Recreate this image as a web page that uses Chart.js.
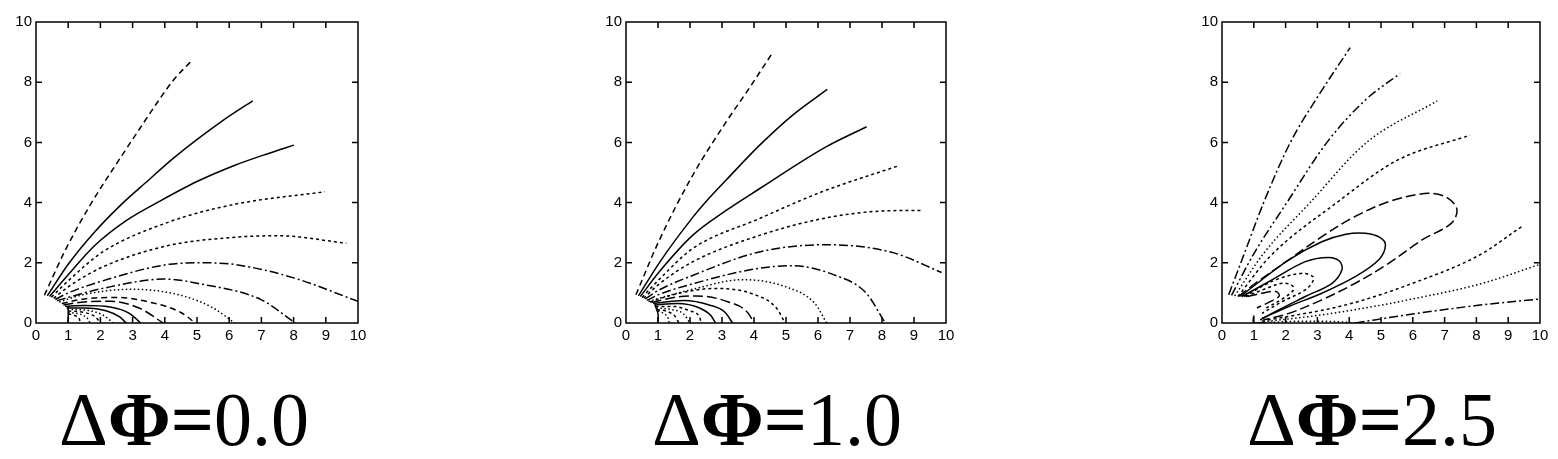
<!DOCTYPE html>
<html>
<head>
<meta charset="utf-8">
<script src="https://cdn.jsdelivr.net/npm/chart.js@4.4.0/dist/chart.umd.min.js"></script>
<style>
    body { margin: 0; background: #fff; width: 1558px; height: 459px; position: relative; overflow: hidden; }
    .panel { position: absolute; top: 0; height: 350px; }
    .title { position: absolute; top: 381px; width: 400px; text-align: center; font-family: 'Liberation Serif', 'Times New Roman', serif; font-size: 76px; line-height: 76px; color: #000; white-space: nowrap; }
    .title b { font-weight: bold; }
</style>
</head>
<body>
<div class="panel" style="left:0px;width:380px;"><canvas id="chart0"></canvas></div>
<div class="panel" style="left:590px;width:380px;"><canvas id="chart1"></canvas></div>
<div class="panel" style="left:1180px;width:378px;"><canvas id="chart2"></canvas></div>
<div class="title" style="left:-16px;">Δ<b>Φ=</b>0.0</div>
<div class="title" style="left:577px;">Δ<b>Φ=</b>1.0</div>
<div class="title" style="left:1172px;">Δ<b>Φ=</b>2.5</div>
<script>
const xTicks = [0, 1, 2, 3, 4, 5, 6, 7, 8, 9, 10];
const yTicks = [0, 2, 4, 6, 8, 10];

// ΔΦ = 0.0
const curves0 = [
    [[0.26,0.92],[0.9,2.4],[1.7,3.95],[2.61,5.47],[3.23,6.47],[3.75,7.3],[4.27,8.07],[4.83,8.71]],
    [[0.35,0.9],[1.0,1.95],[1.8,3.0],[2.71,4.0],[3.5,4.75],[4.26,5.47],[5.82,6.74],[6.73,7.38]],
    [[0.42,0.88],[1.0,1.6],[1.8,2.55],[2.8,3.4],[3.85,4.05],[5.0,4.7],[6.2,5.25],[7.27,5.65],[8.01,5.91]],
    [[0.48,0.86],[1.0,1.4],[2.07,2.36],[4.14,3.36],[6.2,3.95],[8.97,4.36]],
    [[0.55,0.82],[1.0,1.2],[2.07,1.86],[4.14,2.58],[6.2,2.85],[7.5,2.9],[9.64,2.65]],
    [[0.6,0.78],[1.0,1.0],[2.07,1.4],[4.14,1.95],[5.2,2.0],[6.2,1.94],[8.0,1.5],[10.0,0.72]],
    [[0.65,0.74],[1.0,0.85],[2.07,1.15],[4.0,1.46],[5.1,1.3],[7.0,0.77],[8.05,0]],
    [[0.72,0.7],[1.5,0.95],[3.0,1.12],[4.5,0.92],[5.5,0.5],[6.17,0]],
    [[0.8,0.65],[1.5,0.8],[2.5,0.85],[3.5,0.7],[4.5,0.35],[4.95,0]],
    [[0.85,0.6],[1.5,0.7],[2.3,0.72],[3.2,0.5],[3.95,0]],
    [[0.9,0.56],[1.5,0.58],[2.3,0.53],[2.9,0.32],[3.25,0]],
    [[0.95,0.5],[1.5,0.5],[2.2,0.4],[2.6,0.2],[2.8,0]],
    [[0.98,0.45],[1.6,0.42],[2.1,0.25],[2.4,0]],
    [[1.0,0.4],[1.5,0.35],[1.85,0.2],[2.0,0]],
    [[1.0,0.35],[1.35,0.3],[1.6,0.15],[1.68,0]],
    [[1.0,0.3],[1.2,0.25],[1.35,0.12],[1.38,0]],
    [[1.0,0.55],[1.0,0]]
];
const styles0 = ['dash','solid','solid','short','short','dashdot','dashdot','dot','dash','longdash','solid','solid','dot','short','dot','short','solid'];

// ΔΦ = 1.0
const curves1 = [
    [[0.31,0.94],[1.04,2.75],[2.08,4.9],[3.13,6.68],[3.85,7.8],[4.55,8.93]],
    [[0.39,0.9],[1.04,2.0],[2.08,3.5],[2.6,4.15],[3.13,4.75],[4.17,5.9],[5.2,6.9],[6.29,7.76]],
    [[0.45,0.88],[1.04,1.7],[2.08,2.91],[3.13,3.74],[4.17,4.46],[6.25,5.85],[7.52,6.52]],
    [[0.5,0.85],[1.04,1.45],[2.08,2.47],[4.17,3.47],[6.1,4.35],[8.51,5.22]],
    [[0.55,0.82],[1.04,1.3],[2.08,2.03],[4.17,2.91],[6.25,3.49],[8.0,3.72],[9.24,3.74]],
    [[0.6,0.8],[1.04,1.1],[2.08,1.58],[4.17,2.36],[6.25,2.6],[8.3,2.35],[9.86,1.68]],
    [[0.65,0.75],[1.04,0.95],[2.08,1.3],[4.17,1.82],[5.2,1.9],[6.5,1.6],[7.5,1.0],[8.1,0]],
    [[0.7,0.72],[2.08,1.12],[3.65,1.44],[5.0,1.2],[5.9,0.65],[6.27,0]],
    [[0.75,0.7],[1.5,0.95],[2.8,1.15],[4.0,0.95],[4.7,0.5],[4.97,0]],
    [[0.8,0.68],[1.5,0.85],[2.2,0.9],[3.2,0.7],[3.8,0.35],[4.0,0]],
    [[0.85,0.65],[1.8,0.75],[2.6,0.6],[3.1,0.35],[3.33,0]],
    [[0.9,0.6],[1.6,0.65],[2.3,0.5],[2.65,0.25],[2.8,0]],
    [[0.92,0.55],[1.5,0.55],[2.0,0.4],[2.3,0.2],[2.35,0]],
    [[0.95,0.5],[1.4,0.45],[1.8,0.3],[2.0,0]],
    [[0.97,0.45],[1.3,0.38],[1.55,0.2],[1.65,0]],
    [[1.0,0.4],[1.2,0.3],[1.32,0.15],[1.35,0]],
    [[0.9,0.62],[1.0,0.3],[1.0,0]]
];
const styles1 = ['dash','solid','solid','short','short','dashdot','dashdot','dot','short','longdash','solid','solid','short','dot','short','dot','solid'];

// ΔΦ = 2.5
const curves2 = [
    [[0.21,0.94],[0.7,2.3],[1.31,4.0],[2.15,6.0],[3.0,7.5],[4.03,9.15]],
    [[0.3,0.92],[1.0,2.3],[2.04,4.0],[3.3,6.0],[4.5,7.4],[5.6,8.29]],
    [[0.4,0.9],[1.3,2.3],[2.77,4.0],[4.55,6.0],[6.77,7.38]],
    [[0.5,0.88],[1.5,2.2],[3.61,4.0],[5.5,5.4],[7.8,6.24]],
    [[0.52,0.88],[1.05,1.32],[2.1,2.1],[3.14,2.87],[4.19,3.54],[5.3,4.05],[6.5,4.31],[7.1,4.15],[7.39,3.76],[7.2,3.3],[6.29,2.76],[5.24,1.98],[4.19,1.32],[3.14,0.77],[2.1,0.32],[1.3,0.1]],
    [[0.58,0.88],[1.05,1.27],[2.1,2.1],[3.14,2.7],[3.9,2.95],[4.5,2.98],[4.95,2.85],[5.14,2.59],[4.93,2.1],[4.19,1.54],[3.14,0.99],[2.1,0.55],[1.26,0.15]],
    [[0.63,0.88],[1.57,1.43],[2.62,2.04],[3.35,2.18],[3.7,2.05],[3.77,1.76],[3.46,1.32],[2.62,0.88],[1.57,0.32],[1.2,0.1]],
    [[0.7,0.88],[1.68,1.43],[2.52,1.65],[2.85,1.55],[2.88,1.43],[2.62,1.1],[1.89,0.71],[1.26,0.32]],
    [[0.75,0.88],[1.4,1.15],[1.89,1.32],[2.2,1.25],[2.25,1.1],[1.9,0.8],[1.3,0.45]],
    [[0.8,0.88],[1.3,1.0],[1.7,1.05],[1.8,0.9],[1.5,0.7],[1.1,0.5]],
    [[1.25,0.06],[3.93,0.61],[6.02,1.33],[8.1,2.26],[9.42,3.2]],
    [[1.3,0.04],[3.0,0.25],[4.5,0.5],[6.0,0.8],[8.2,1.32],[10.0,1.95]],
    [[4.2,0],[6.0,0.3],[8.0,0.58],[10.0,0.8]],
    [[1.5,0.02],[2.5,0.06],[3.5,0.05],[4.2,0]],
    [[1.0,0.25],[1.0,0],[1.4,0]]
];
const styles2 = ['dashdot','dashdotdot','dot','short','longdash','solid','solid','short','short','longdash','short','dot','dashdot','dot','solid'];

const dashes = {
    solid: [],
    dash: [6, 4],
    short: [3, 3],
    dot: [1.5, 2.5],
    longdash: [10, 4],
    dashdot: [9, 3, 2, 3],
    dashdotdot: [9, 3, 2, 3, 2, 3]
};

// box round the plot and inward ticks on all four sides
const frame = {
    id: 'frame',
    afterDraw(chart) {
        const ctx = chart.ctx;
        const a = chart.chartArea;
        const xs = chart.scales.x;
        const ys = chart.scales.y;
        const len = 6;
        ctx.save();
        ctx.strokeStyle = '#000';
        ctx.lineWidth = 1.5;
        ctx.setLineDash([]);
        ctx.strokeRect(a.left, a.top, a.right - a.left, a.bottom - a.top);
        ctx.beginPath();
        xTicks.slice(1, -1).forEach((v) => {
            const px = xs.getPixelForValue(v);
            ctx.moveTo(px, a.bottom); ctx.lineTo(px, a.bottom - len);
            ctx.moveTo(px, a.top); ctx.lineTo(px, a.top + len);
        });
        yTicks.slice(1, -1).forEach((v) => {
            const py = ys.getPixelForValue(v);
            ctx.moveTo(a.left, py); ctx.lineTo(a.left + len, py);
            ctx.moveTo(a.right, py); ctx.lineTo(a.right - len, py);
        });
        ctx.stroke();
        ctx.restore();
    }
};

const tickFont = { family: "'Liberation Sans', Arial, sans-serif", size: 15 };

function increasing(c) {
    for (let i = 1; i < c.length; i++) {
        if (c[i][0] <= c[i - 1][0]) return false;
    }
    return true;
}

function makePanel(id, curves, styles, yWidth, padRight) {
    const datasets = curves.map((c, i) => ({
        data: c.map((p) => ({ x: p[0], y: p[1] })),
        showLine: true,
        borderColor: '#000',
        borderWidth: 1.5,
        borderDash: dashes[styles[i]],
        pointRadius: 0,
        // open fans use monotone splines, the closed loops a plain tension
        cubicInterpolationMode: increasing(c) ? 'monotone' : 'default',
        tension: 0.35,
        fill: false
    }));
    return new Chart(document.getElementById(id), {
        type: 'scatter',
        data: { datasets: datasets },
        options: {
            responsive: false,
            animation: false,
            maintainAspectRatio: false,
            layout: { padding: { top: 22, right: padRight, bottom: 0, left: 0 } },
            plugins: { legend: { display: false }, tooltip: { enabled: false } },
            scales: {
                x: {
                    type: 'linear', min: 0, max: 10,
                    afterBuildTicks: (s) => { s.ticks = xTicks.map((v) => ({ value: v })); },
                    afterFit: (s) => { s.height = 27; },
                    grid: { display: false, drawTicks: false },
                    border: { display: false },
                    ticks: { color: '#000', font: tickFont, padding: 4, maxRotation: 0 }
                },
                y: {
                    type: 'linear', min: 0, max: 10,
                    afterBuildTicks: (s) => { s.ticks = yTicks.map((v) => ({ value: v })); },
                    afterFit: (s) => { s.width = yWidth; },
                    grid: { display: false, drawTicks: false },
                    border: { display: false },
                    ticks: { color: '#000', font: tickFont, padding: 4 }
                }
            }
        },
        plugins: [frame]
    });
}

function sizeCanvas(id, w, h) {
    const c = document.getElementById(id);
    c.width = w; c.height = h;
    c.style.width = w + 'px'; c.style.height = h + 'px';
}

sizeCanvas('chart0', 380, 350);
sizeCanvas('chart1', 380, 350);
sizeCanvas('chart2', 378, 350);
makePanel('chart0', curves0, styles0, 36, 22);
makePanel('chart1', curves1, styles1, 36, 24);
makePanel('chart2', curves2, styles2, 42, 18);
</script>
</body>
</html>
